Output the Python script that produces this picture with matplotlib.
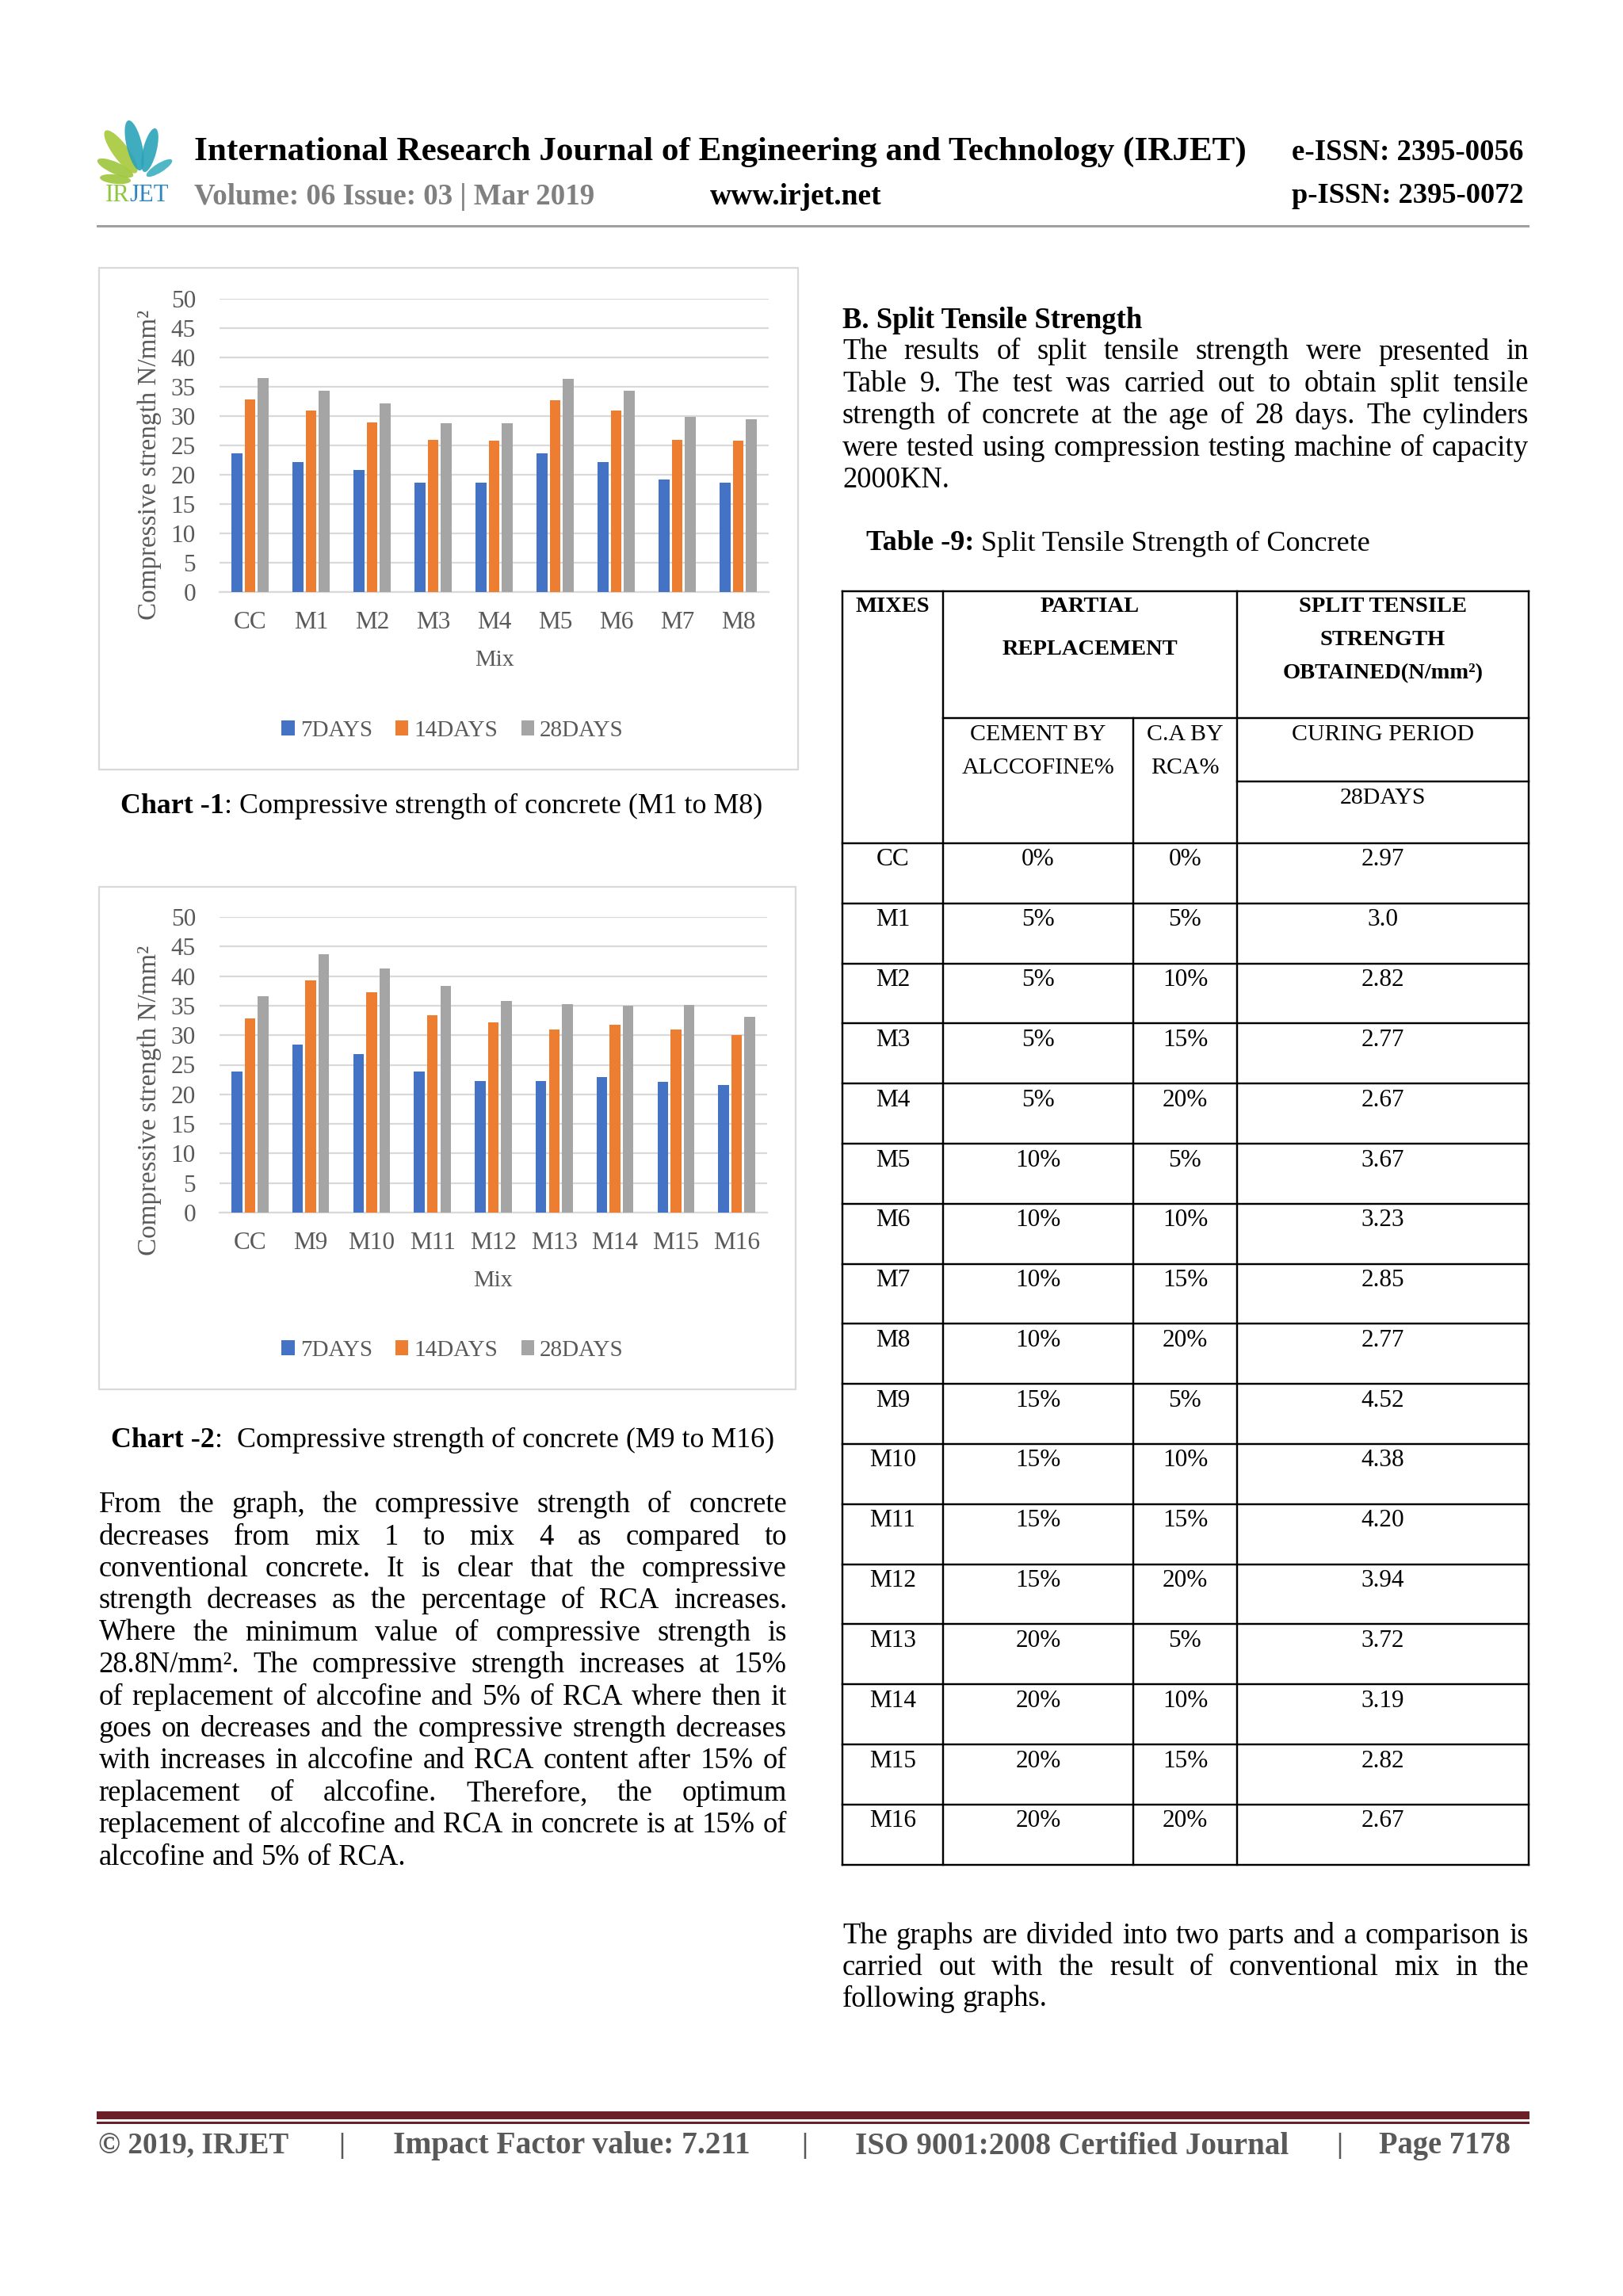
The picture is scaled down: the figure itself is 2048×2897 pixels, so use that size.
import numpy as np
import matplotlib
matplotlib.use('Agg')
import matplotlib.pyplot as plt
from matplotlib.patches import Rectangle, Ellipse

# ---------------- data ----------------
series_labels = ["7DAYS", "14DAYS", "28DAYS"]
series_colors = ["#4472C4", "#ED7D31", "#A5A5A5"]

mixes_chart1 = ["CC", "M1", "M2", "M3", "M4", "M5", "M6", "M7", "M8"]
days7_chart1 = [23.7, 22.2, 20.8, 18.6, 18.6, 23.6, 22.2, 19.2, 18.6]
days14_chart1 = [32.9, 30.9, 28.9, 25.9, 25.8, 32.7, 30.9, 25.9, 25.8]
days28_chart1 = [36.5, 34.3, 32.1, 28.8, 28.8, 36.4, 34.3, 29.9, 29.5]

mixes_chart2 = ["CC", "M9", "M10", "M11", "M12", "M13", "M14", "M15", "M16"]
days7_chart2 = [23.8, 28.4, 26.8, 23.9, 22.3, 22.3, 22.9, 22.1, 21.6]
days14_chart2 = [32.9, 39.3, 37.2, 33.4, 32.2, 31.0, 31.8, 31.0, 30.0]
days28_chart2 = [36.6, 43.7, 41.3, 38.3, 35.8, 35.3, 35.0, 35.1, 33.1]

y_ticks = [0, 5, 10, 15, 20, 25, 30, 35, 40, 45, 50]

table_mixes = ["CC", "M1", "M2", "M3", "M4", "M5", "M6", "M7", "M8",
               "M9", "M10", "M11", "M12", "M13", "M14", "M15", "M16"]
table_alccofine = ["0%", "5%", "5%", "5%", "5%", "10%", "10%", "10%", "10%",
                   "15%", "15%", "15%", "15%", "20%", "20%", "20%", "20%"]
table_rca = ["0%", "5%", "10%", "15%", "20%", "5%", "10%", "15%", "20%",
             "5%", "10%", "15%", "20%", "5%", "10%", "15%", "20%"]
table_split = ["2.97", "3.0", "2.82", "2.77", "2.67", "3.67", "3.23", "2.85", "2.77",
               "4.52", "4.38", "4.20", "3.94", "3.72", "3.19", "2.82", "2.67"]

left_para = [
    "From the graph, the compressive strength of concrete",
    "decreases from mix 1 to mix 4 as compared to",
    "conventional concrete. It is clear that the compressive",
    "strength decreases as the percentage of RCA increases.",
    "Where the minimum value of compressive strength is",
    "28.8N/mm\u00b2. The compressive strength increases at 15%",
    "of replacement of alccofine and 5% of RCA where then it",
    "goes on decreases and the compressive strength decreases",
    "with increases in alccofine and RCA content after 15% of",
    "replacement of alccofine. Therefore, the optimum",
    "replacement of alccofine and RCA in concrete is at 15% of",
    "alccofine and 5% of RCA.",
]
right_para = [
    "The results of split tensile strength were presented in",
    "Table 9. The test was carried out to obtain split tensile",
    "strength of concrete at the age of 28 days. The cylinders",
    "were tested using compression testing machine of capacity",
    "2000KN.",
]
bottom_para = [
    "The graphs are divided into two parts and a comparison is",
    "carried out with the result of conventional mix in the",
    "following graphs.",
]

# ---------------- setup ----------------
W, H = 2048, 2897
plt.rcParams['font.family'] = ['Liberation Serif', 'DejaVu Serif']
fig = plt.figure(figsize=(W / 100, H / 100), dpi=100)
fig.patch.set_facecolor('white')
bg = fig.add_axes([0, 0, 1, 1])
bg.set_xlim(0, W)
bg.set_ylim(H, 0)
bg.axis('off')
renderer = fig.canvas.get_renderer()


def measure(s, size, weight='normal'):
    t = bg.text(0, 0, s, fontsize=size, fontweight=weight)
    w = t.get_window_extent(renderer=renderer).width
    t.remove()
    return w


def space_w(size, weight='normal'):
    return measure('a a', size, weight) - measure('aa', size, weight)


def put(x, y, s, size, weight='normal', color='black', ha='left', fit=None, **kw):
    if fit is not None:
        size = size * fit / measure(s, size, weight)
    bg.text(x, y, s, fontsize=size, fontweight=weight, color=color,
            ha=ha, va='center', **kw)
    return size


def rich(x, y, parts, size, fit=None):
    def total(sz):
        w = 0
        for txt, wt, sp, col in parts:
            w += sp * space_w(sz, wt) + measure(txt, sz, wt)
        return w
    if fit:
        size = size * fit / total(size)
    cx = x
    for txt, wt, sp, col in parts:
        cx += sp * space_w(size, wt)
        bg.text(cx, y, txt, fontsize=size, fontweight=wt, color=col,
                va='center', ha='left')
        cx += measure(txt, size, wt)


def natural(line, size):
    words = line.split()
    return sum(measure(w, size) for w in words) + (len(words) - 1) * space_w(size)


def paragraph(lines, x0, x1, y0, dy, size):
    sw = space_w(size)
    for i, line in enumerate(lines):
        y = y0 + i * dy
        words = line.split()
        ws = [measure(w, size) for w in words]
        if i == len(lines) - 1 or len(words) == 1:
            gap = sw
        else:
            gap = (x1 - x0 - sum(ws)) / (len(words) - 1)
        cx = x0
        for w, wd in zip(words, ws):
            bg.text(cx, y, w, fontsize=size, va='center', ha='left', color='black')
            cx += wd + gap


# ---------------- header ----------------
leaves = [((123, 202), (168, 222), '#9CC63B'),
          ((126, 224), (165, 228), '#9CC63B'),
          ((133, 165), (172, 218), '#A8C93A'),
          ((162, 152), (177, 215), '#2AA3B8'),
          ((196, 162), (182, 217), '#2AA3B8'),
          ((217, 202), (185, 222), '#3DB0C0')]
for (x1, y1), (x2, y2), col in leaves:
    L = np.hypot(x2 - x1, y2 - y1)
    ang = np.degrees(np.arctan2(y2 - y1, x2 - x1))
    bg.add_patch(Ellipse(((x1 + x2) / 2, (y1 + y2) / 2), L, L * 0.3, angle=ang,
                         color=col, alpha=0.9, lw=0))
rich(133, 247, [("IR", 'normal', 0, '#8DC63F'), ("JET", 'normal', 0, '#2E86C1')], 20, fit=80)

put(245, 192, "International Research Journal of Engineering and Technology (IRJET)",
    28, weight='bold', fit=1331)
put(1630, 192, "e-ISSN: 2395-0056", 28, weight='bold', fit=292)
put(245, 248, "Volume: 06 Issue: 03 | Mar 2019", 24, weight='bold', color='#808080', fit=506)
put(896, 248, "www.irjet.net", 24, weight='bold', fit=217)
put(1630, 248, "p-ISSN: 2395-0072", 28, weight='bold', fit=292)
bg.add_patch(Rectangle((122, 283.5), 1808, 3, color='#A0A0A0', lw=0))

# ---------------- charts ----------------
OFF = 0.215
BW = 0.175


def make_chart(plot_px, box_px, cats, s7, s14, s28, ylab_y, mix_y, legend_y):
    l, t, r, b = plot_px
    bx, by, bw, bh = box_px
    bg.add_patch(Rectangle((bx, by), bw, bh, fill=False, ec='#D9D9D9', lw=1.6))
    ax = fig.add_axes([l / W, 1 - b / H, (r - l) / W, (b - t) / H])
    ax.set_facecolor('none')
    x = np.arange(len(cats))
    for vals, off, col, lab in zip([s7, s14, s28], [-OFF, 0, OFF], series_colors, series_labels):
        ax.bar(x + off, vals, BW, color=col, label=lab, zorder=3)
    ax.set_xlim(-0.5, len(cats) - 0.5)
    ax.set_ylim(0, 50)
    ax.set_yticks(y_ticks)
    ax.set_xticks(x)
    ax.set_xticklabels(cats)
    ax.grid(axis='y', color='#D9D9D9', lw=1.6, zorder=0)
    ax.set_axisbelow(True)
    for sp in ['top', 'right', 'left']:
        ax.spines[sp].set_visible(False)
    ax.spines['bottom'].set_color('#D9D9D9')
    ax.spines['bottom'].set_linewidth(1.6)
    ax.tick_params(axis='both', length=0, labelsize=22.5, labelcolor='#595959')
    ax.tick_params(axis='y', pad=21.6)
    ax.tick_params(axis='x', pad=17.5)
    ylab = "Compressive strength N/mm\u00b2"
    ysize = 22 * 390 / measure(ylab, 22)
    ax.set_ylabel(ylab, fontsize=ysize, color='#595959')
    ax.yaxis.label.set_va('center')
    ax.yaxis.set_label_coords((189 - l) / (r - l), (b - ylab_y) / (b - t))
    ax.set_xlabel("Mix", fontsize=21.5, color='#595959')
    ax.xaxis.label.set_va('center')
    ax.xaxis.set_label_coords(0.5, (b - mix_y) / (b - t))
    handles, labels = ax.get_legend_handles_labels()
    fig.legend(handles, labels, loc='center', bbox_to_anchor=(571 / W, 1 - legend_y / H),
               ncol=3, frameon=False, fontsize=21, labelcolor='#595959',
               handlelength=0.56, handleheight=0.62, handletextpad=0.25,
               columnspacing=1.0, borderpad=0)
    return ax


make_chart((277, 377, 970, 747), (125, 338, 882, 633), mixes_chart1,
           days7_chart1, days14_chart1, days28_chart1, 586, 833, 922)
make_chart((277, 1157, 968, 1530), (125, 1119, 879, 634), mixes_chart2,
           days7_chart2, days14_chart2, days28_chart2, 1388, 1616, 1704)

rich(152, 1017, [("Chart -1", 'bold', 0, 'black'),
                 (": Compressive strength of concrete (M1 to M8)", 'normal', 0, 'black')],
     24, fit=810)
rich(140, 1817, [("Chart -2", 'bold', 0, 'black'),
                 (":  Compressive strength of concrete (M9 to M16)", 'normal', 0, 'black')],
     24, fit=836)

# ---------------- paragraphs ----------------
LX0, LX1 = 124.5, 993
RX0, RX1 = 1063, 1929
ratios = [natural(l_, 24) / (LX1 - LX0) for l_ in left_para[:-1]]
ratios += [natural(l_, 24) / (RX1 - RX0) for l_ in right_para[:-1]]
ratios += [natural(l_, 24) / (RX1 - RX0) for l_ in bottom_para[:-1]]
body = 24 / max(ratios) * 0.995

paragraph(left_para, LX0, LX1, 1899, 40.4, body)
put(RX0, 404, "B. Split Tensile Strength", body, weight='bold')
paragraph(right_para, RX0, RX1, 444, 40.5, body)
rich(1093, 686, [("Table -9:", 'bold', 0, 'black'),
                 ("Split Tensile Strength of Concrete", 'normal', 1, 'black')],
     24, fit=637)
paragraph(bottom_para, RX0, RX1, 2443, 39.5, body)

# ---------------- table ----------------
cols = [1063, 1190, 1430, 1561, 1929]
t_top, t_mid, t_cur, t_hb = 746, 906, 986, 1064
row_h = 75.8
t_bot = t_hb + row_h * len(table_mixes)
LW = 1.75
lk = dict(color='black', lw=LW, solid_capstyle='projecting')
bg.plot([cols[0], cols[4]], [t_top, t_top], **lk)
bg.plot([cols[1], cols[4]], [t_mid, t_mid], **lk)
bg.plot([cols[3], cols[4]], [t_cur, t_cur], **lk)
for i in range(len(table_mixes) + 1):
    yy = t_hb + i * row_h
    bg.plot([cols[0], cols[4]], [yy, yy], **lk)
for c in [cols[0], cols[1], cols[3], cols[4]]:
    bg.plot([c, c], [t_top, t_bot], **lk)
bg.plot([cols[2], cols[2]], [t_mid, t_bot], **lk)

HS = 20.5
put(1126.5, 765, "MIXES", HS, weight='bold', ha='center')
put(1375.5, 765, "PARTIAL", HS, weight='bold', ha='center')
put(1375.5, 820, "REPLACEMENT", HS, weight='bold', ha='center')
put(1745, 765, "SPLIT TENSILE", HS, weight='bold', ha='center')
put(1745, 807, "STRENGTH", HS, weight='bold', ha='center')
put(1745, 850, "OBTAINED(N/mm\u00b2)", HS, weight='bold', ha='center')
BS = 22.5
put(1310, 927, "CEMENT BY", 21.5, ha='center')
put(1310, 969, "ALCCOFINE%", 21.5, ha='center')
put(1495.5, 927, "C.A BY", 21.5, ha='center')
put(1495.5, 969, "RCA%", 21.5, ha='center')
put(1745, 927, "CURING PERIOD", 21.5, ha='center')
put(1745, 1007, "28DAYS", 21.5, ha='center')
centers = [(cols[0] + cols[1]) / 2, (cols[1] + cols[2]) / 2,
           (cols[2] + cols[3]) / 2, (cols[3] + cols[4]) / 2]
for i, vals in enumerate(zip(table_mixes, table_alccofine, table_rca, table_split)):
    yy = t_hb + i * row_h + 21
    for cx, v in zip(centers, vals):
        put(cx, yy, v, BS, ha='center')

# ---------------- footer ----------------
bg.add_patch(Rectangle((122, 2664), 1808, 10, color='#6B1F26', lw=0))
bg.add_patch(Rectangle((122, 2677), 1808, 2.5, color='#6B1F26', lw=0))
FC = '#595959'
put(124, 2708, "\u00a9 2019, IRJET", 26, weight='bold', color=FC, fit=240)
put(431, 2708, "|", 26, weight='bold', color=FC, ha='center')
put(496, 2708, "Impact Factor value: 7.211", 26, weight='bold', color=FC, fit=452)
put(1015, 2708, "|", 26, weight='bold', color=FC, ha='center')
put(1079, 2708, "ISO 9001:2008 Certified Journal", 26, weight='bold', color=FC, fit=546)
put(1690, 2708, "|", 26, weight='bold', color=FC, ha='center')
put(1740, 2708, "Page 7178", 26, weight='bold', color=FC, fit=166)

fig.savefig('out.png', dpi=100, facecolor='white')
